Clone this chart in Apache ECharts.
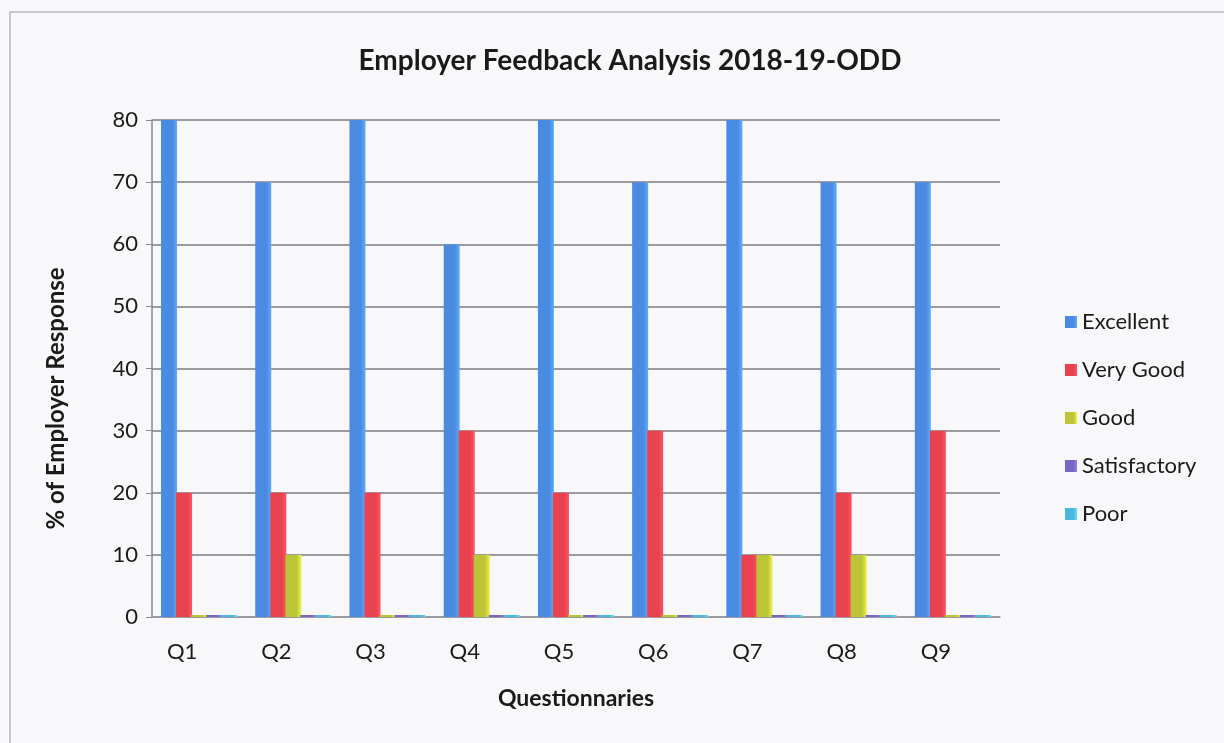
<!DOCTYPE html>
<html>
<head>
<meta charset="utf-8">
<script src="https://cdn.jsdelivr.net/npm/echarts@6/dist/echarts.min.js"></script>
<style>
html,body{margin:0;padding:0;background:#f8f8fa;}
#c{width:1224px;height:743px;}
</style>
</head>
<body>
<div id="c"></div>
<script>
var categories = ['Q1','Q2','Q3','Q4','Q5','Q6','Q7','Q8','Q9'];
var excellent = [80,70,80,60,80,70,80,70,70];
var veryGood = [20,20,20,30,20,30,10,20,30];
var good = [0,10,0,10,0,0,10,10,0];
var satisfactory = [0,0,0,0,0,0,0,0,0];
var poor = [0,0,0,0,0,0,0,0,0];
var yTicks = [0,10,20,30,40,50,60,70,80];

var font = 'Lato, "Open Sans", sans-serif';
var chart = echarts.init(document.getElementById('c'));
function s(name, data, color){
  return {name:name, type:'bar', data:data, barWidth:16, barGap:'-6%', barMinHeight:2,
    itemStyle:{color:new echarts.graphic.LinearGradient(0,0,1,0,[
      {offset:0,color:color},{offset:0.7,color:color},{offset:1,color:echarts.color.lift(color,-0.25)}])}};
}
chart.setOption({
  backgroundColor:'#f8f8fa',
  animation:false,
  title:{text:'Employer Feedback Analysis 2018-19-ODD', left:625, top:42, textAlign:'center',
    textStyle:{fontFamily:font, fontWeight:'bold', fontSize:28, color:'#1a1a1a'}},
  legend:{orient:'vertical', left:1060, top:306, itemGap:26, itemWidth:12, itemHeight:12,
    icon:'rect', textStyle:{fontFamily:font, fontSize:22, lineHeight:22, color:'#1a1a1a'},
    data:['Excellent','Very Good','Good','Satisfactory','Poor']},
  grid:{left:152, right:224, top:120, bottom:126},
  graphic:[{type:'rect', shape:{x:10,y:12,width:1230,height:740}, style:{fill:'none', stroke:'#b8b8bc', lineWidth:1.5}, silent:true}],
  xAxis:{type:'category', data:categories, name:'Questionnaries', nameLocation:'middle', nameGap:70,
    nameTextStyle:{fontFamily:font, fontWeight:'bold', fontSize:23, color:'#1a1a1a'},
    axisLine:{lineStyle:{color:'#9a9a9e', width:1.5}}, axisTick:{show:false},
    axisLabel:{fontFamily:font, fontSize:22, color:'#1a1a1a', margin:24, padding:[0,34,0,0]}},
  yAxis:{type:'value', min:0, max:80, interval:10, name:'% of Employer Response', nameLocation:'middle', nameGap:84,
    nameTextStyle:{fontFamily:font, fontWeight:'bold', fontSize:24, color:'#1a1a1a', padding:[0,60,0,0]},
    axisLine:{show:true, lineStyle:{color:'#8a8a8e', width:1.5}}, axisTick:{show:true, length:6, lineStyle:{color:'#8a8a8e'}},
    axisLabel:{fontFamily:font, fontSize:22, color:'#1a1a1a', margin:14,
      formatter:function(v){return yTicks.indexOf(v)>=0 ? String(v) : '';}},
    splitLine:{lineStyle:{color:'#7e7e82', width:1.5}}},
  series:[
    s('Excellent', excellent, '#4a8ae0'),
    s('Very Good', veryGood, '#e8424e'),
    s('Good', good, '#bcc437'),
    s('Satisfactory', satisfactory, '#7a66c4'),
    s('Poor', poor, '#4cb6e0')
  ]
});
</script>
</body>
</html>
